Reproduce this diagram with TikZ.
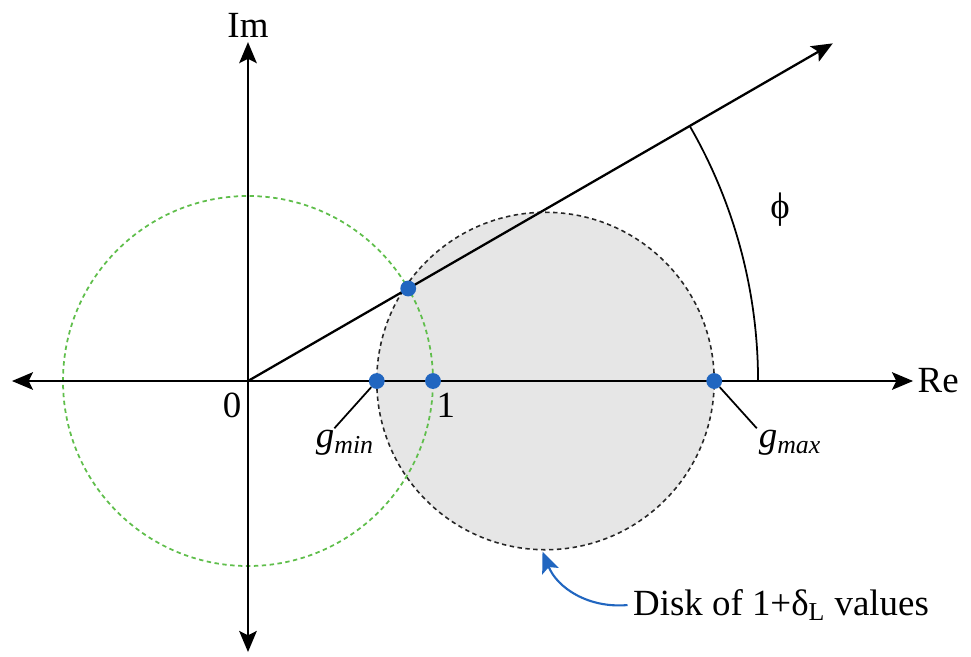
\documentclass[tikz,border=0pt]{standalone}
\usepackage{fontspec}
\setmainfont{Liberation Serif}
\usetikzlibrary{arrows.meta}
\definecolor{dotblue}{RGB}{33,102,192}
\definecolor{ringgreen}{RGB}{95,190,75}
\definecolor{diskgray}{RGB}{230,230,230}

\begin{document}
\begin{tikzpicture}[x=3.7cm,y=3.7cm,>={Stealth[length=12pt,width=10pt,inset=2.5pt]},
  font=\fontsize{21}{25}\selectfont,
  gdot/.style={circle,fill=dotblue,inner sep=0pt,minimum size=9pt}]
  \useasboundingbox (-1.3405,-1.4865) rectangle (3.9081,2.0595);
  % disk and unit circle
  \fill[diskgray] (1.608,0) circle (0.912);
  \draw[black!85,line width=0.9pt,dash pattern=on 2.5pt off 2pt] (1.608,0) circle (0.912);
  \draw[ringgreen,line width=1pt,dash pattern=on 2.5pt off 2pt] (0,0) circle (1);
  % axes
  \coordinate (o) at (0,0);
  \draw[<->,line width=1.3pt] (-1.276,0) -- (3.595,0) node[right,inner sep=2pt] (re) {Re};
  \draw[<->,line width=1.3pt] (0,-1.465) -- (0,1.832) node[above,inner sep=2pt] (im) {Im};
  \draw[->,line width=1.3pt] (o) -- (30:3.65);
  \draw[line width=1pt] (0:2.757) arc[start angle=0,end angle=30,radius=2.757];
  \node (phi) at (2.876,0.924) {ϕ};
  % points
  \node[gdot] (gmin) at (0.696,0) {};
  \node[gdot] (one) at (1,0) {};
  \node[gdot] (gmax) at (2.52,0) {};
  \node[gdot] (cross) at (30:1) {};
  \node (zero) at (-0.086,-0.13) {0};
  \node (onelbl) at (1.07,-0.13) {1};
  \node[inner sep=1pt] (gminlbl) at (0.524,-0.335) {\textit{g}\textsubscript{\textit{min}}};
  \node[inner sep=1pt] (gmaxlbl) at (2.93,-0.335) {\textit{g}\textsubscript{\textit{max}}};
  \draw[line width=1pt] (gmin) -- ([xshift=-6pt]gminlbl.north);
  \draw[line width=1pt] (gmax) -- (gmaxlbl.north west);
  % disk label
  \node[inner sep=3pt] (disklbl) at (2.881,-1.211) {Disk of 1+δ\textsubscript{L} values};
  \coordinate (diskbot) at (1.592,-0.922);
  \draw[->,dotblue,line width=1.2pt] (disklbl.west) to[out=185,in=-68] (diskbot);
\end{tikzpicture}
\end{document}
